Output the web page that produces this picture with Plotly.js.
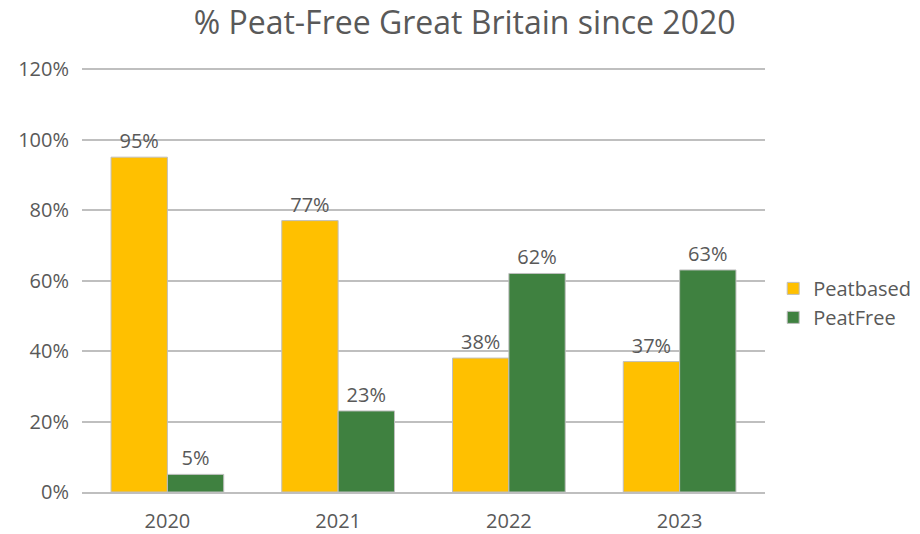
<!DOCTYPE html>
<html>
<head>
<meta charset="utf-8">
<script src="https://cdn.plot.ly/plotly-3.0.1.min.js"></script>
<style>html,body{margin:0;padding:0;background:#fff;}#chart{width:920px;height:534px;}</style>
</head>
<body>
<div id="chart"></div>
<script>
const years = ['2020', '2021', '2022', '2023'];
const peatbased = [95, 77, 38, 37];
const peatfree = [5, 23, 62, 63];
const yTicks = [0, 20, 40, 60, 80, 100, 120];
const yTickLabels = ['0%', '20%', '40%', '60%', '80%', '100%', '120%'];

const font = 'Open Sans, Noto Sans, sans-serif';
const grey = '#595959';
const fs = 20;

const traces = [
  {type: 'bar', name: 'Peatbased', x: years, y: peatbased,
   marker: {color: '#FFC000', line: {color: '#bfbfbf', width: 1}},
   text: peatbased.map(v => v + '%'), textposition: 'outside', cliponaxis: false,
   textfont: {family: font, size: fs, color: grey}, hoverinfo: 'none'},
  {type: 'bar', name: 'PeatFree', x: years, y: peatfree,
   marker: {color: '#3F8140', line: {color: '#bfbfbf', width: 1}},
   text: peatfree.map(v => v + '%'), textposition: 'outside', cliponaxis: false,
   textfont: {family: font, size: fs, color: grey}, hoverinfo: 'none'}
];

const layout = {
  width: 920, height: 534,
  margin: {l: 82, r: 155, t: 68, b: 42, autoexpand: false},
  paper_bgcolor: '#fff', plot_bgcolor: '#fff',
  font: {family: font, color: grey},
  title: {text: '% Peat-Free Great Britain since 2020', x: 0.505, xanchor: 'center',
          yref: 'container', y: 0.958, yanchor: 'middle',
          font: {family: font, size: 32, color: grey}},
  barmode: 'group', bargap: 0.34, bargroupgap: 0,
  xaxis: {type: 'category', showgrid: false, showline: true, linecolor: '#bfbfbf', linewidth: 2,
          ticks: '', tickfont: {family: font, size: fs, color: grey}, ticklabelstandoff: 10},
  yaxis: {range: [0, 120.3], tickvals: yTicks, ticktext: yTickLabels, showgrid: true,
          gridcolor: '#bfbfbf', gridwidth: 2, zeroline: false, showline: false,
          ticks: '', tickfont: {family: font, size: fs, color: grey}, ticklabelstandoff: 12},
  legend: {x: 1.012, y: 0.446, xanchor: 'left', yanchor: 'middle', font: {family: font, size: fs, color: grey},
           itemwidth: 30, tracegroupgap: 4},
  showlegend: true
};

Plotly.newPlot('chart', traces, layout, {displayModeBar: false, staticPlot: true});
</script>
</body>
</html>
